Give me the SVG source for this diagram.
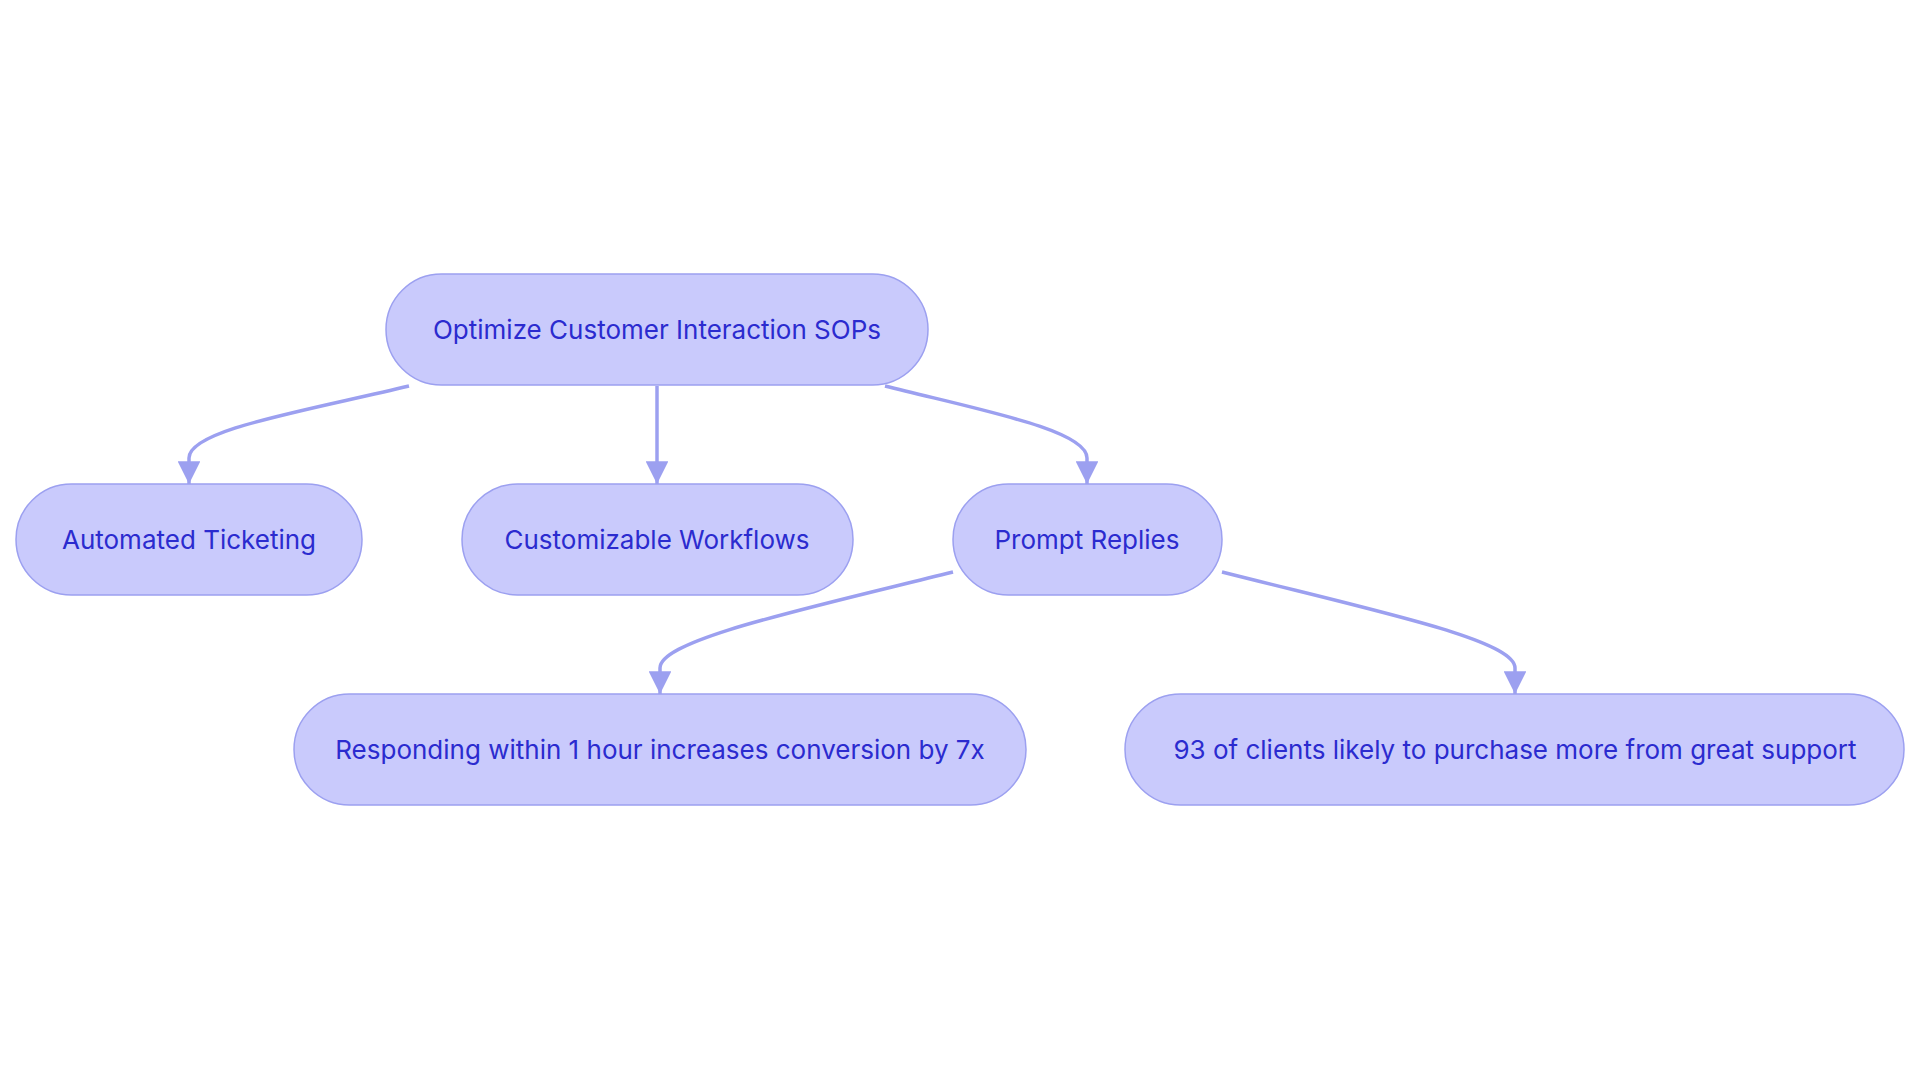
<svg xmlns="http://www.w3.org/2000/svg" width="1920" height="1083" viewBox="0 0 1920 1083">
<style>
.n rect{fill:#c9cafc;stroke:#9ca0f0;stroke-width:1.5}
.n text{font-family:Inter,"Noto Sans",sans-serif;font-size:26px;fill:#2b2bcf;text-anchor:middle;dominant-baseline:central}
.e path{fill:none;stroke:#9ca0f0;stroke-width:3.5;marker-end:url(#a)}
</style>
<defs><marker id="a" viewBox="0 0 10 10" refX="10" refY="5" markerWidth="6.5" markerHeight="6.5" orient="auto" markerUnits="strokeWidth"><path d="M0,0L10,5L0,10z" fill="#9ca0f0"/></marker></defs>
<rect width="1920" height="1083" fill="#fff"/>
<g class="e">
<path d="M409,386 C300,412 189,430 189,458 L189,484"/>
<path d="M657,386 L657,484"/>
<path d="M885,386 C980,410 1087,430 1087,458 L1087,484"/>
<path d="M953,572 C800,610 660,640 660,668 L660,694"/>
<path d="M1222,572 C1380,612 1515,640 1515,668 L1515,694"/>
</g>
<g id="n0" class="n"><rect x="386" y="274" width="542" height="111" rx="55.5"/><text x="657" y="329.5">Optimize Customer Interaction SOPs</text></g>
<g id="n1" class="n"><rect x="16" y="484" width="346" height="111" rx="55.5"/><text x="189" y="539.5">Automated Ticketing</text></g>
<g id="n2" class="n"><rect x="462" y="484" width="391" height="111" rx="55.5"/><text x="657" y="539.5">Customizable Workflows</text></g>
<g id="n3" class="n"><rect x="953" y="484" width="269" height="111" rx="55.5"/><text x="1087" y="539.5">Prompt Replies</text></g>
<g id="n4" class="n"><rect x="294" y="694" width="732" height="111" rx="55.5"/><text x="660" y="749.5">Responding within 1 hour increases conversion by 7x</text></g>
<g id="n5" class="n"><rect x="1125" y="694" width="779" height="111" rx="55.5"/><text x="1515" y="749.5">93 of clients likely to purchase more from great support</text></g>
</svg>
